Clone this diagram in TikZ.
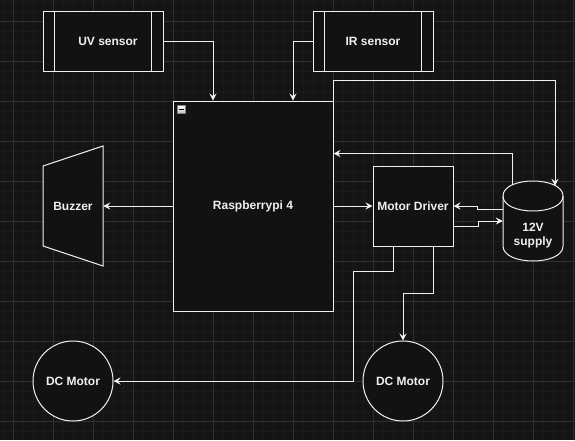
\documentclass[tikz,border=0pt]{standalone}
\usepackage{fontspec}
\setmainfont{Liberation Sans}
\usepackage{xcolor}
\usetikzlibrary{arrows.meta}
\usetikzlibrary{calc}
\definecolor{canvas}{HTML}{141414}
\definecolor{fillc}{HTML}{121212}
\definecolor{minorc}{HTML}{1A1A1A}
\definecolor{majorc}{HTML}{2F2F2F}
\definecolor{fg}{HTML}{F0F0F0}

\begin{document}
\begin{tikzpicture}[x=1pt,y=-1pt,
  font=\fontsize{12}{14}\selectfont\bfseries, text=fg,
  box/.style={draw=fg,fill=fillc,line width=1pt,inner sep=0pt},
  arr/.style={draw=fg,line width=1pt,-{Stealth[length=7pt,width=7pt,inset=2.5pt]}}]
\useasboundingbox (0,0) rectangle (575,440);
\fill[canvas] (0,0) rectangle (575,440);
\foreach \i in {0,...,57} \draw[minorc,line width=0.6pt] (3.3+10*\i,0) -- (3.3+10*\i,440);
\foreach \j in {0,...,43} \draw[minorc,line width=0.6pt] (0,1.7+10*\j) -- (575,1.7+10*\j);
\foreach \i in {0,...,14} \draw[majorc,line width=0.8pt] (13.3+40*\i,0) -- (13.3+40*\i,440);
\foreach \j in {0,...,10} \draw[majorc,line width=0.8pt] (0,21.7+40*\j) -- (575,21.7+40*\j);

\node[box,minimum width=120pt,minimum height=60pt] (uv) at (103,41) {\hspace{10pt}UV sensor};
\node[box,minimum width=120pt,minimum height=60pt] (ir) at (373,41) {IR sensor};
\foreach \s in {uv,ir} {
  \draw[fg,line width=1pt] ($(\s.north west)+(12,0)$) -- ($(\s.south west)+(12,0)$);
  \draw[fg,line width=1pt] ($(\s.north east)+(-12,0)$) -- ($(\s.south east)+(-12,0)$);
}
\node[box,minimum width=160pt,minimum height=210pt] (rpi) at (253,206) {Raspberrypi 4};
\draw[gray,top color=white,bottom color=black!25,line width=0.6pt] ($(rpi.north west)+(5,5)$) rectangle ++(8,8);
\draw[black,line width=1.2pt] ($(rpi.north west)+(6.5,9)$) -- ++(5,0);
\node[box,minimum size=80pt] (md) at (413,206) {Motor Driver};

\draw[fg,fill=fillc,line width=1pt] (43,166) -- (103,146) -- (103,266) -- (43,246) -- cycle;
\node[minimum width=60pt,minimum height=120pt,inner sep=0pt] (buzzer) at (73,206) {Buzzer};

\draw[fg,fill=fillc,line width=1pt] (503,196) .. controls (503,176) and (563,176) .. (563,196)
  -- (563,246) .. controls (563,266) and (503,266) .. (503,246) -- cycle;
\draw[fg,line width=1pt] (503,196) .. controls (503,216) and (563,216) .. (563,196);
\node[minimum width=60pt,minimum height=80pt,inner sep=0pt] (psu) at (533,221) {};
\node[align=center,inner sep=0pt] (psutext) at (533,236) {12V\\supply};

\node[box,circle,minimum size=80pt] (m1) at (73,381) {DC Motor};
\node[box,circle,minimum size=80pt] (m2) at (403,381) {DC Motor};

\draw[arr] (uv.east) -| ([xshift=-40pt]rpi.north);
\draw[arr] (ir.west) -| ([xshift=40pt]rpi.north);
\draw[arr] (rpi.north east) -- ++(0,-20) -| ($(psu.north)+(22,5)$);
\draw[arr] ($(psu.north west)+(10,4)$) |- ($(rpi.north east)+(0,53)$);
\draw[arr] (rpi.west) -- (buzzer.east);
\draw[arr] (rpi.east) -- (md.west);
\draw[arr] ($(psu.west)+(0,-12)$) -- ++(-25,0) |- (md.east);
\draw[arr] ($(md.east)+(0,20)$) -- ++(25,0) |- (psu.west);
\draw[arr] ($(md.south)+(-20,0)$) -- ++(0,25) -- ++(-40,0) |- (m1.east);
\draw[arr] ($(md.south)+(20,0)$) -- ++(0,47) -| (m2.north);
\end{tikzpicture}
\end{document}
